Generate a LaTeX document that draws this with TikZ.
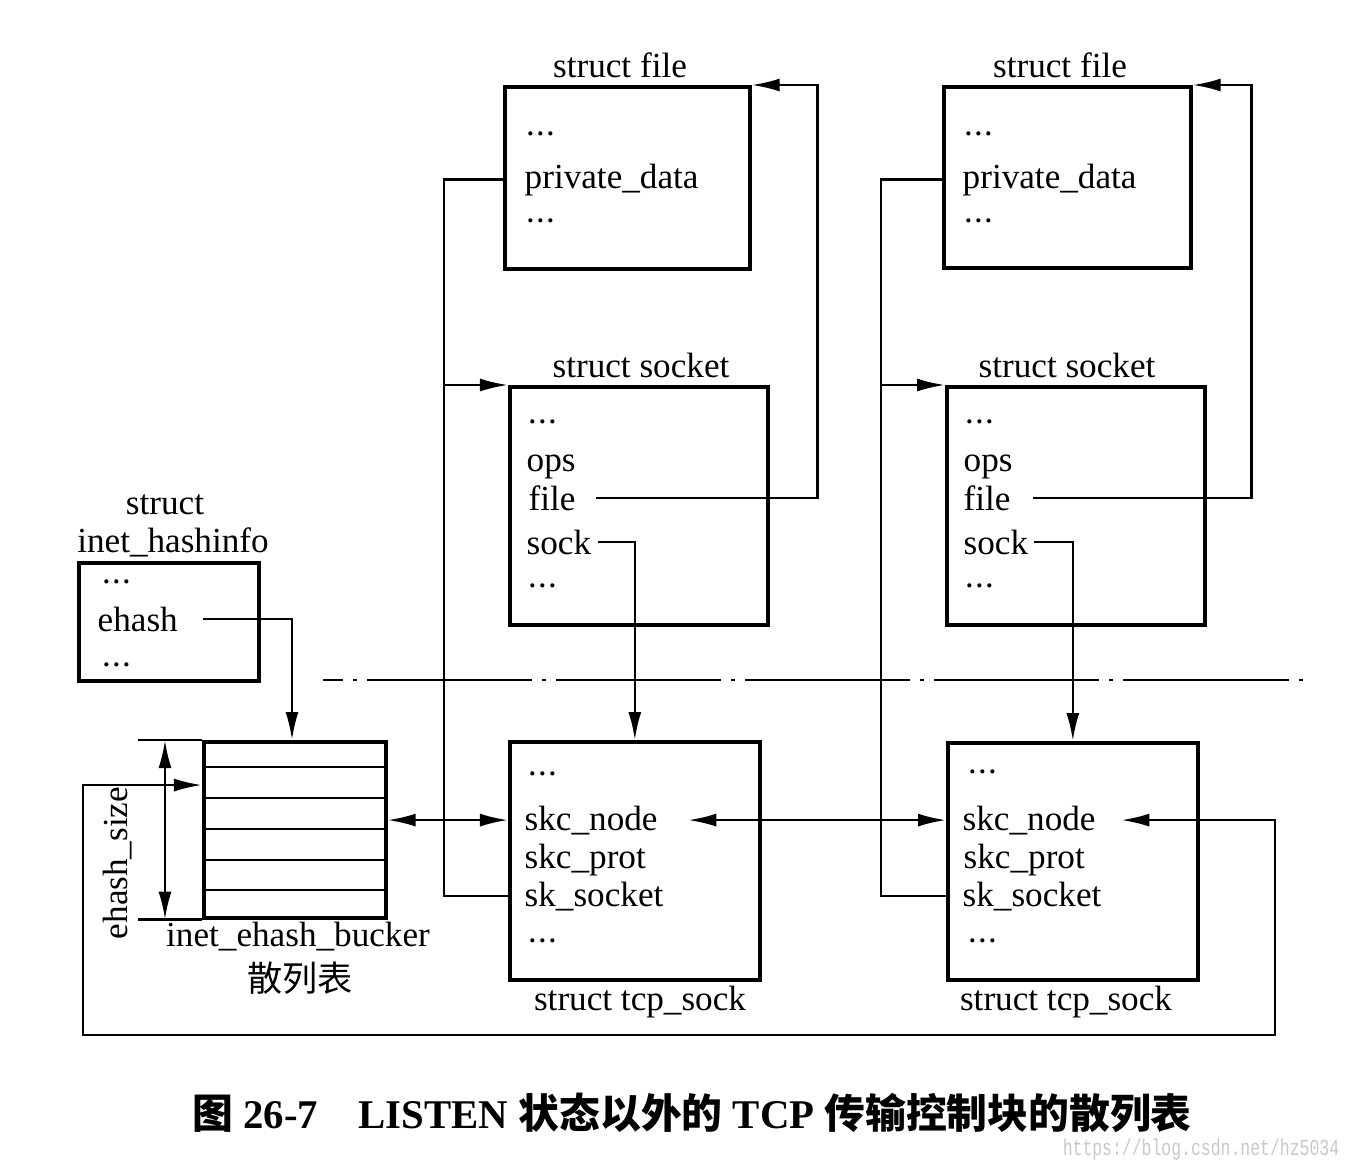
\documentclass[tikz,border=0pt]{standalone}
\usepackage{fontspec}
\setmainfont{Liberation Serif}
\newfontfamily\cjkfont{Noto Sans CJK SC}
\newfontfamily\markfont{Liberation Mono}
\usetikzlibrary{arrows.meta,positioning,calc}
\newcommand{\etcdots}{\textperiodcentered\kern-0.05em\textperiodcentered\kern-0.05em\textperiodcentered}
\definecolor{markgray}{RGB}{200,200,200}
\tikzset{
    structbox/.style={draw, line width=1pt, anchor=north west, inner sep=0pt},
    field/.style={anchor=base west, inner sep=0pt, font=\fontsize{10}{12}\selectfont},
    dotsfield/.style={anchor=west, inner sep=0pt, yshift=-0.09cm, font=\fontsize{10}{12}\selectfont},
    title/.style={anchor=base, inner sep=0pt, font=\fontsize{10}{12}\selectfont},
    link/.style={line width=0.7pt},
    ptr/.style={-{Latex[length=2.8mm,width=1.3mm]}},
    dptr/.style={{Latex[length=2.8mm,width=1.3mm]}-{Latex[length=2.8mm,width=1.3mm]}}
}

\begin{document}
\begin{tikzpicture}[x=0.01cm, y=-0.01cm]
    \useasboundingbox (0,0) rectangle (1352,1166);

    % struct inet_hashinfo
    \node[title] (hst) at (165,514) {struct};
    \node[title] (hname) at (173,552) {inet\_hashinfo};
    \node[structbox, minimum width=1.80cm, minimum height=1.18cm] (hinfo) at (77,561) {};
    \node[dotsfield] (hd1) at (100,578) {\etcdots};
    \node[field] (ehash) at (97,631) {ehash};
    \node[dotsfield] (hd2) at (100,661) {\etcdots};

    % hash buckets
    \node[structbox, minimum width=1.82cm, minimum height=1.76cm] (bucket) at (202,740) {};
    \foreach \y in {767,798,829,860,890} {
        \draw[link] (202,\y) -- (384,\y);
    }
    \draw[link] (bucket.north west) -- ++(-64,0);
    \draw[link] (bucket.south west) -- ++(-64,0);
    \draw[link,dptr] ([xshift=-0.37cm]bucket.north west) -- ([xshift=-0.37cm]bucket.south west);
    \node[rotate=90, inner sep=0pt, font=\fontsize{10}{12}\selectfont] (esize) at (118,863) {ehash\_size};
    \node[title] (bname) at (298,946) {inet\_ehash\_bucker};
    \node[inner sep=0pt, font=\fontsize{10}{12}\selectfont\cjkfont] (bcn) at (300,978) {散列表};

    % left column: file, socket, tcp_sock
    \node[title] (tf1) at (620,77) {struct file};
    \node[structbox, minimum width=2.45cm, minimum height=1.82cm] (file1) at (503,85) {};
    \node[dotsfield] at (524,130) {\etcdots};
    \node[field] (pd1) at (524,188) {private\_data};
    \node[dotsfield] at (524,217) {\etcdots};

    \node[title] (ts1) at (641,377) {struct socket};
    \node[structbox, minimum width=2.58cm, minimum height=2.38cm] (sock1) at (508,385) {};
    \node[dotsfield] at (526,418) {\etcdots};
    \node[field] (ops1) at (526,471) {ops};
    \node[field] (fl1) at (528,510) {file};
    \node[field] (sk1) at (526,554) {sock};
    \node[dotsfield] at (526,582) {\etcdots};

    \node[structbox, minimum width=2.50cm, minimum height=2.38cm] (tcp1) at (508,740) {};
    \node[dotsfield] at (526,770) {\etcdots};
    \node[field] (skn1) at (524,830) {skc\_node};
    \node[field] (skp1) at (524,868) {skc\_prot};
    \node[field] (sks1) at (524,906) {sk\_socket};
    \node[dotsfield] at (526,937) {\etcdots};
    \node[title] (tt1) at (640,1010) {struct tcp\_sock};

    % right column: file, socket, tcp_sock
    \node[title] (tf2) at (1060,77) {struct file};
    \node[structbox, minimum width=2.47cm, minimum height=1.81cm] (file2) at (942,85) {};
    \node[dotsfield] at (962,130) {\etcdots};
    \node[field] (pd2) at (962,188) {private\_data};
    \node[dotsfield] at (962,217) {\etcdots};

    \node[title] (ts2) at (1067,377) {struct socket};
    \node[structbox, minimum width=2.58cm, minimum height=2.38cm] (sock2) at (945,385) {};
    \node[dotsfield] at (963,418) {\etcdots};
    \node[field] (ops2) at (963,471) {ops};
    \node[field] (fl2) at (963,510) {file};
    \node[field] (sk2) at (963,554) {sock};
    \node[dotsfield] at (963,582) {\etcdots};

    \node[structbox, minimum width=2.50cm, minimum height=2.37cm] (tcp2) at (946,741) {};
    \node[dotsfield] at (966,768) {\etcdots};
    \node[field] (skn2) at (962,830) {skc\_node};
    \node[field] (skp2) at (963,868) {skc\_prot};
    \node[field] (sks2) at (962,906) {sk\_socket};
    \node[dotsfield] at (966,937) {\etcdots};
    \node[title] (tt2) at (1066,1010) {struct tcp\_sock};

    % helper points
    \coordinate (bus1) at (444,385);
    \coordinate (bus2) at (881,385);
    \coordinate (loopL) at (83,1035);
    \coordinate (loopR) at (1275,1035);

    % separator
    \draw[link, dash pattern=on 1.65cm off 0.1cm on 0.04cm off 0.1cm, dash phase=1.45cm] (323,680) -- (1310,680);

    % ehash -> buckets
    \draw[link,ptr] ([xshift=0.25cm]ehash.east) -| ($(bucket.north west)+(90,0)$);

    % private_data / sk_socket -> socket
    \draw[link] (file1.west |- pd1) -| (bus1) |- (tcp1.west |- sks1);
    \draw[link,ptr] (bus1) -- (sock1.north west);
    \draw[link] (file2.west |- pd2) -| (bus2) |- (tcp2.west |- sks2);
    \draw[link,ptr] (bus2) -- (sock2.north west);

    % socket.file -> struct file
    \draw[link,ptr] ([xshift=0.2cm]fl1.east) -| ($(file1.north east)+(66,0)$) -- (file1.north east);
    \draw[link,ptr] ([xshift=0.22cm]fl2.east) -| ($(file2.north east)+(59,0)$) -- (file2.north east);

    % socket.sock -> tcp_sock
    \draw[link,ptr] ([xshift=0.06cm]sk1.east) -| (tcp1.north);
    \draw[link,ptr] ([xshift=0.05cm]sk2.east) -| (tcp2.north);

    % hash chain
    \draw[link,dptr] (bucket.east |- skn1) -- (tcp1.west |- skn1);
    \draw[link,dptr] ([xshift=0.3cm]skn1.east) -- (tcp2.west |- skn1);
    \draw[link,dptr] ([yshift=-0.45cm]bucket.north west) -| (loopL) -| (loopR |- skn2) -- ([xshift=0.25cm]skn2.east);

    % caption
    \node[inner sep=0pt, font=\fontsize{11.6}{13}\selectfont\bfseries] (caption) at (692,1113)
        {{\cjkfont 图} 26-7\quad LISTEN {\cjkfont 状态以外的} TCP {\cjkfont 传输控制块的散列表}};
    \node[inner sep=0pt, text=markgray, font=\fontsize{6.5}{8}\selectfont\markfont] (wmark) at (1201,1150)
        {\scalebox{0.72}[1]{https://blog.csdn.net/hz5034}};

\end{tikzpicture}
\end{document}
